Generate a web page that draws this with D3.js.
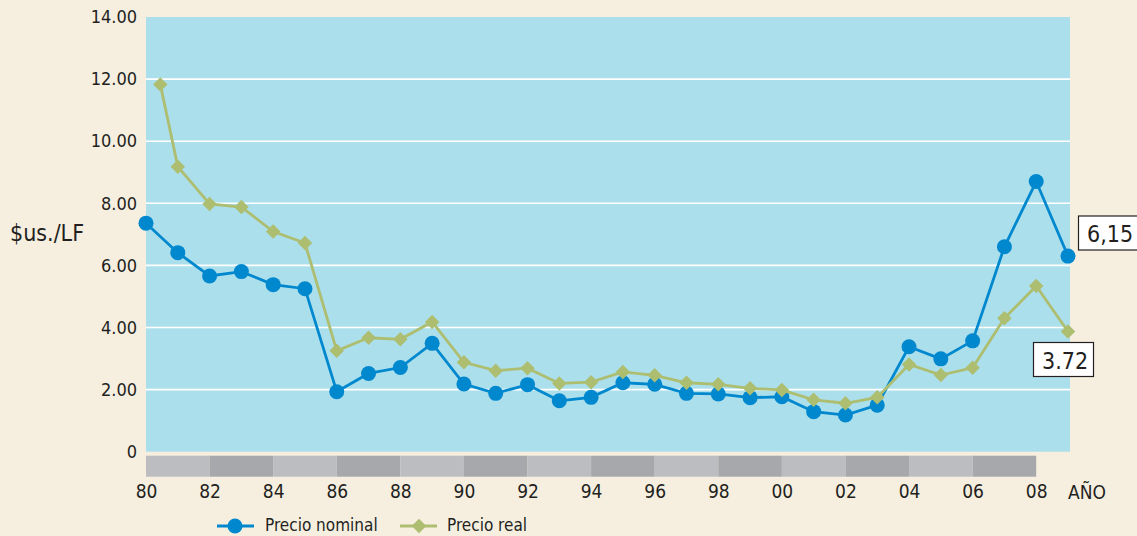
<!DOCTYPE html>
<html>
<head>
<meta charset="utf-8">
<script src="https://cdn.jsdelivr.net/npm/d3@7"></script>
<style>
  html, body { margin: 0; padding: 0; background: #f6efe0; }
  svg text { font-family: "Liberation Sans Narrow", "DejaVu Sans Condensed", "Liberation Sans", sans-serif; fill: #231f20; }
</style>
</head>
<body>
<div id="chart"></div>
<script>
// values
const years = [80, 81, 82, 83, 84, 85, 86, 87, 88, 89, 90, 91, 92, 93, 94, 95, 96, 97, 98, 99,
               100, 101, 102, 103, 104, 105, 106, 107, 108, 109];
const nominal = [7.36, 6.41, 5.66, 5.80, 5.38, 5.25, 1.93, 2.52, 2.71, 3.49, 2.18, 1.88, 2.16, 1.64, 1.75,
                 2.22, 2.17, 1.88, 1.86, 1.74, 1.77, 1.29, 1.18, 1.50, 3.38, 2.99, 3.57, 6.60, 8.70, 6.30];
// the first "real" point sits a little right of 80 in the original
const realYears = [80.45, 81, 82, 83, 84, 85, 86, 87, 88, 89, 90, 91, 92, 93, 94, 95, 96, 97, 98, 99,
                   100, 101, 102, 103, 104, 105, 106, 107, 108, 109];
const real = [11.83, 9.18, 7.98, 7.88, 7.09, 6.72, 3.25, 3.67, 3.62, 4.18, 2.88, 2.61, 2.69, 2.20, 2.24,
              2.57, 2.46, 2.22, 2.17, 2.04, 1.99, 1.67, 1.56, 1.75, 2.81, 2.47, 2.70, 4.30, 5.34, 3.87];
const xTicks = [80, 82, 84, 86, 88, 90, 92, 94, 96, 98, 100, 102, 104, 106, 108];
const xTickLabels = ["80", "82", "84", "86", "88", "90", "92", "94", "96", "98", "00", "02", "04", "06", "08"];
const yTicks = [0, 2, 4, 6, 8, 10, 12, 14];
const seriesNames = ["Precio nominal", "Precio real"];
const callouts = [{ label: "6,15" }, { label: "3.72" }];

const width = 1137, height = 536;
const blue = "#0088cf", green = "#adbe71";

const svg = d3.select("#chart").append("svg")
    .attr("width", width).attr("height", height);

svg.append("rect").attr("width", width).attr("height", height).attr("fill", "#f6efe0");

const x = d3.scaleLinear().domain([80, 109]).range([146, 1068]);
const y = d3.scaleLinear().domain([0, 14]).range([451.7, 17]);

// plot background
svg.append("rect")
    .attr("x", 146).attr("y", y(14))
    .attr("width", 1070 - 146).attr("height", y(0) - y(14))
    .attr("fill", "#acdfec");

// grid lines
svg.append("g").selectAll("line")
    .data(yTicks.filter(d => d > 0 && d < 14))
    .enter().append("line")
    .attr("x1", 146).attr("x2", 1070)
    .attr("y1", d => y(d)).attr("y2", d => y(d))
    .attr("stroke", "#ffffff").attr("stroke-width", 1.6);

// grey band under the axis, two years per block
const bands = xTicks.slice(0, -1);
svg.append("g").selectAll("rect")
    .data(bands)
    .enter().append("rect")
    .attr("x", d => x(d))
    .attr("width", d => x(d + 2) - x(d))
    .attr("y", 455.7).attr("height", 21)
    .attr("fill", (d, i) => i % 2 == 0 ? "#bcbdc1" : "#a7a8ac");

// y axis labels
const yAxis = d3.axisLeft(y).tickValues(yTicks)
    .tickFormat(d => d == 0 ? "0" : d3.format(".2f")(d))
    .tickSize(0).tickPadding(0);
const gy = svg.append("g").attr("transform", "translate(137,0)").call(yAxis);
gy.select(".domain").remove();
gy.selectAll("text").attr("font-size", 18).attr("fill", "#231f20")
    .style("font-family", "'Liberation Sans Narrow', 'DejaVu Sans Condensed', sans-serif");

// x axis labels
const xAxis = d3.axisBottom(x).tickValues(xTicks)
    .tickFormat((d, i) => xTickLabels[i])
    .tickSize(0).tickPadding(0);
const gx = svg.append("g").attr("transform", "translate(0,484)").call(xAxis);
gx.select(".domain").remove();
gx.selectAll("text").attr("font-size", 19).attr("fill", "#231f20")
    .style("font-family", "'Liberation Sans Narrow', 'DejaVu Sans Condensed', sans-serif");

svg.append("text").attr("x", 1087).attr("y", 499).attr("text-anchor", "middle")
    .attr("font-size", 19).text("AÑO");

svg.append("text").attr("x", 10).attr("y", 241).attr("font-size", 23).text("$us./LF");

// lines
const lineNom = d3.line().x((d, i) => x(years[i])).y(d => y(d));
const lineReal = d3.line().x((d, i) => x(realYears[i])).y(d => y(d));

svg.append("path").datum(nominal).attr("d", lineNom)
    .attr("fill", "none").attr("stroke", blue).attr("stroke-width", 2.8);
svg.append("g").selectAll("circle")
    .data(nominal).enter().append("circle")
    .attr("cx", (d, i) => x(years[i])).attr("cy", d => y(d)).attr("r", 7.5)
    .attr("fill", blue);

const diamond = d3.symbol().type(d3.symbolSquare).size(105);
svg.append("path").datum(real).attr("d", lineReal)
    .attr("fill", "none").attr("stroke", green).attr("stroke-width", 2.8);
svg.append("g").selectAll("path")
    .data(real).enter().append("path")
    .attr("d", diamond)
    .attr("transform", (d, i) => "translate(" + x(realYears[i]) + "," + y(d) + ") rotate(45)")
    .attr("fill", green);

// value callouts
const boxes = [
    { x: 1078.5, y: 216, w: 70, h: 34, label: callouts[0].label, tx: 1087 },
    { x: 1033.5, y: 342.5, w: 60, h: 34, label: callouts[1].label, tx: 1042 }
];
boxes.forEach(b => {
    svg.append("rect").attr("x", b.x).attr("y", b.y).attr("width", b.w).attr("height", b.h)
        .attr("fill", "#ffffff").attr("stroke", "#231f20").attr("stroke-width", 1.2);
    svg.append("text").attr("x", b.tx).attr("y", b.y + 26).attr("font-size", 23).text(b.label);
});

// legend
const legend = svg.append("g");
const legendItems = [
    { name: seriesNames[0], x1: 217, color: blue, mark: "circle", tx: 265 },
    { name: seriesNames[1], x1: 400, color: green, mark: "diamond", tx: 447 }
];
legendItems.forEach(l => {
    legend.append("line").attr("x1", l.x1).attr("x2", l.x1 + 37)
        .attr("y1", 526).attr("y2", 526).attr("stroke", l.color).attr("stroke-width", 2.8);
    if (l.mark == "circle")
        legend.append("circle").attr("cx", l.x1 + 18).attr("cy", 526).attr("r", 7.5).attr("fill", l.color);
    else
        legend.append("path").attr("d", diamond)
            .attr("transform", "translate(" + (l.x1 + 19) + ",526) rotate(45)").attr("fill", l.color);
    legend.append("text").attr("x", l.tx).attr("y", 531).attr("font-size", 17).text(l.name);
});
</script>
</body>
</html>
